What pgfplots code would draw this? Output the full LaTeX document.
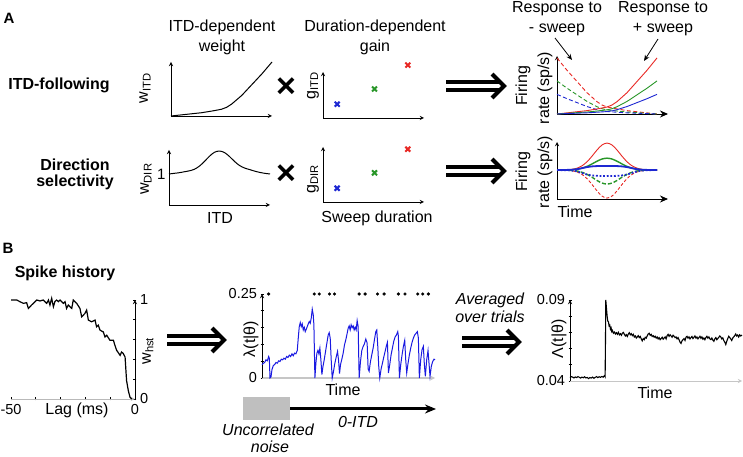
\documentclass[border=0pt]{standalone}
\usepackage{fontspec}
\setmainfont{Liberation Sans}
\usepackage{pgfplots}
\pgfplotsset{compat=1.18}
\usepackage{pgfplotstable}
\usetikzlibrary{arrows.meta}

\definecolor{cR}{RGB}{232,40,36}
\definecolor{cG}{RGB}{40,150,40}
\definecolor{cB}{RGB}{30,40,210}
\definecolor{cL}{RGB}{25,25,225}

\pgfplotstableread{
t w g b wr gr br
0.00 0.000 0.000 0.000 1.000 0.590 0.350
0.05 0.010 0.006 0.004 0.890 0.525 0.312
0.10 0.020 0.012 0.007 0.780 0.460 0.273
0.15 0.030 0.018 0.011 0.680 0.401 0.238
0.20 0.040 0.024 0.014 0.580 0.342 0.203
0.25 0.050 0.030 0.018 0.480 0.283 0.168
0.30 0.060 0.035 0.021 0.380 0.224 0.133
0.35 0.075 0.044 0.026 0.300 0.177 0.105
0.40 0.090 0.053 0.032 0.220 0.130 0.077
0.45 0.107 0.063 0.037 0.160 0.094 0.056
0.50 0.125 0.074 0.044 0.125 0.074 0.044
0.55 0.160 0.094 0.056 0.107 0.063 0.037
0.60 0.220 0.130 0.077 0.090 0.053 0.032
0.65 0.300 0.177 0.105 0.075 0.044 0.026
0.70 0.380 0.224 0.133 0.060 0.035 0.021
0.75 0.480 0.283 0.168 0.050 0.030 0.018
0.80 0.580 0.342 0.203 0.040 0.024 0.014
0.85 0.680 0.401 0.238 0.030 0.018 0.011
0.90 0.780 0.460 0.273 0.020 0.012 0.007
0.95 0.890 0.525 0.312 0.010 0.006 0.004
1.00 1.000 0.590 0.350 0.000 0.000 0.000
}\ramp

\pgfplotstableread{
t r g b bd gd rd wdir
0.00 0.001 0.000 0.000 0.000 0.000 -0.001 1.00
0.05 0.003 0.001 0.002 -0.003 -0.002 -0.003 1.02
0.10 0.009 0.004 0.005 -0.008 -0.005 -0.009 1.04
0.15 0.027 0.012 0.012 -0.020 -0.014 -0.028 1.07
0.20 0.070 0.031 0.032 -0.050 -0.036 -0.073 1.10
0.25 0.157 0.069 0.070 -0.110 -0.082 -0.163 1.15
0.30 0.306 0.135 0.110 -0.165 -0.159 -0.318 1.25
0.35 0.514 0.226 0.135 -0.200 -0.267 -0.535 1.40
0.40 0.744 0.327 0.147 -0.215 -0.387 -0.774 1.57
0.45 0.929 0.409 0.150 -0.220 -0.483 -0.966 1.70
0.50 1.000 0.440 0.150 -0.220 -0.520 -1.040 1.74
0.55 0.929 0.409 0.150 -0.220 -0.483 -0.966 1.69
0.60 0.744 0.327 0.147 -0.215 -0.387 -0.774 1.56
0.65 0.514 0.226 0.135 -0.200 -0.267 -0.535 1.40
0.70 0.306 0.135 0.110 -0.165 -0.159 -0.318 1.27
0.75 0.157 0.069 0.070 -0.110 -0.082 -0.163 1.19
0.80 0.070 0.031 0.032 -0.050 -0.036 -0.073 1.14
0.85 0.027 0.012 0.012 -0.020 -0.014 -0.028 1.09
0.90 0.009 0.004 0.005 -0.008 -0.005 -0.009 1.05
0.95 0.003 0.001 0.002 -0.003 -0.002 -0.003 1.02
1.00 0.001 0.000 0.000 0.000 0.000 -0.001 1.00
}\bump

\pgfplotstableread{
lag w
-50 1.0
-47.7 1.0
-46.4 0.983
-45.0 0.966
-43.7 0.973
-43.0 0.915
-41.7 0.949
-41.0 0.966
-40.3 0.983
-39.6 1.0
-38.3 0.99
-37.0 1.0
-35.6 0.966
-34.9 1.0
-34.3 0.949
-33.6 1.017
-32.9 0.932
-32.3 0.983
-31.6 1.0
-30.9 0.983
-30.2 1.0
-28.9 0.966
-28.2 0.983
-27.6 0.915
-26.9 0.949
-26.2 0.932
-25.5 0.915
-24.9 1.0
-23.5 0.966
-22.2 0.915
-21.5 0.83
-20.2 0.864
-19.5 0.898
-18.8 0.797
-17.5 0.78
-16.1 0.797
-15.5 0.729
-14.8 0.746
-14.1 0.695
-12.8 0.678
-12.1 0.627
-11.4 0.644
-10.1 0.593
-8.7 0.593
-8.1 0.542
-7.4 0.492
-6.0 0.441
-5.4 0.475
-4.7 0.458
-4.0 0.424
-3.4 0.186
-2.7 0.085
-2.0 0.017
-1.3 0.0
}\hist

\pgfplotstableread{
x y
80 0.040
84 0.044
88 0.046
92 0.054
96 0.051
100 0.064
102 0.059
104 0.000
107 0.003
110 0.025
114 0.037
118 0.040
122 0.046
126 0.044
130 0.051
134 0.049
138 0.056
142 0.054
146 0.059
150 0.056
154 0.064
158 0.061
162 0.068
166 0.064
170 0.072
174 0.066
178 0.074
182 0.072
186 0.082
189 0.119
192 0.153
195 0.165
198 0.153
201 0.161
204 0.143
207 0.151
210 0.138
213 0.145
216 0.153
219 0.161
222 0.168
225 0.163
228 0.178
231 0.205
234 0.188
236 0.158
239 0.000
242 0.044
245 0.074
248 0.082
251 0.072
254 0.089
257 0.054
260 0.010
263 0.033
267 0.054
271 0.079
275 0.104
279 0.128
282 0.135
285 0.119
288 0.054
291 0.000
295 0.020
299 0.044
303 0.062
307 0.079
310 0.054
313 0.013
316 0.040
320 0.056
324 0.074
328 0.099
332 0.114
336 0.133
339 0.148
342 0.155
345 0.143
348 0.158
351 0.150
354 0.155
357 0.143
360 0.151
363 0.143
366 0.171
369 0.153
372 0.000
376 0.049
380 0.082
384 0.094
388 0.102
392 0.116
396 0.104
399 0.027
402 0.020
406 0.049
410 0.069
414 0.089
418 0.114
422 0.138
425 0.143
428 0.094
431 0.033
434 0.000
438 0.027
442 0.044
446 0.062
450 0.079
454 0.096
457 0.106
460 0.015
464 0.040
468 0.069
472 0.089
476 0.109
480 0.122
484 0.128
488 0.138
490 0.124
493 0.000
497 0.040
501 0.069
505 0.094
509 0.112
512 0.054
515 0.015
519 0.044
523 0.069
527 0.089
531 0.106
535 0.119
539 0.128
543 0.133
547 0.138
550 0.119
553 0.000
557 0.054
561 0.084
565 0.094
568 0.040
571 0.005
575 0.054
579 0.082
582 0.044
585 0.005
589 0.035
593 0.049
597 0.056
600 0.054
}\lam

\pgfplotstableread{
x y
75 0.0421
79 0.0427
83 0.0424
87 0.0419
91 0.0425
95 0.0421
99 0.0427
103 0.0423
107 0.0418
111 0.0424
115 0.0420
119 0.0426
123 0.0419
127 0.0422
131 0.0415
135 0.0421
139 0.0418
143 0.0424
147 0.0417
151 0.0422
155 0.0427
159 0.0421
163 0.0426
167 0.0423
171 0.0428
175 0.0424
179 0.0433
181 0.0426
182 0.0640
183 0.0900
185 0.0850
187 0.0800
189 0.0770
191 0.0765
193 0.0740
195 0.0745
197 0.0720
199 0.0728
201 0.0705
203 0.0712
206 0.0695
209 0.0702
212 0.0690
215 0.0698
218 0.0688
221 0.0700
224 0.0685
227 0.0692
230 0.0682
233 0.0695
236 0.0700
239 0.0688
242 0.0678
245 0.0686
248 0.0675
251 0.0690
254 0.0698
257 0.0685
260 0.0692
263 0.0680
266 0.0688
269 0.0672
272 0.0678
275 0.0665
278 0.0672
281 0.0680
284 0.0668
287 0.0675
290 0.0660
293 0.0648
296 0.0662
299 0.0655
302 0.0670
305 0.0665
308 0.0678
311 0.0690
314 0.0695
317 0.0682
320 0.0688
323 0.0675
326 0.0680
329 0.0670
332 0.0676
335 0.0665
338 0.0672
341 0.0660
344 0.0668
347 0.0655
350 0.0662
353 0.0670
356 0.0658
359 0.0665
362 0.0672
365 0.0660
368 0.0680
371 0.0688
374 0.0676
377 0.0685
380 0.0678
383 0.0670
386 0.0682
389 0.0676
392 0.0668
395 0.0672
398 0.0660
401 0.0668
404 0.0655
407 0.0640
410 0.0632
413 0.0648
416 0.0655
419 0.0662
422 0.0650
425 0.0670
428 0.0676
431 0.0665
434 0.0672
437 0.0660
440 0.0668
443 0.0675
446 0.0662
449 0.0670
452 0.0678
455 0.0665
458 0.0672
461 0.0660
464 0.0668
467 0.0676
470 0.0664
473 0.0672
476 0.0658
479 0.0665
482 0.0655
485 0.0668
488 0.0676
491 0.0665
494 0.0672
497 0.0660
500 0.0656
503 0.0665
506 0.0652
509 0.0645
512 0.0660
515 0.0668
518 0.0655
521 0.0662
524 0.0670
527 0.0678
530 0.0672
533 0.0660
536 0.0666
539 0.0650
542 0.0640
545 0.0625
548 0.0645
551 0.0662
554 0.0676
557 0.0668
560 0.0660
563 0.0650
566 0.0665
569 0.0672
572 0.0680
575 0.0690
578 0.0678
581 0.0684
584 0.0672
587 0.0685
590 0.0678
594 0.0683
}\avg

\pgfplotsset{
  base/.style={scale only axis, anchor=south west, clip=false,
    scaled ticks=false,
    tick label style={font=\fontsize{14.5}{16}\selectfont},
    axis line style={-, line width=0.9pt},
    tick style={black, line width=0.6pt}, major tick length=3pt, tick align=inside},
  schem/.style={base, axis x line=bottom, axis y line=left, xtick=\empty, ytick=\empty,
    xmin=0, xmax=1, ymin=0, ymax=1},
  firing/.style={schem, xmax=1.11, x axis line style={-{Stealth[length=8pt,width=7pt]}}},
}

\tikzset{
  lab/.style={font=\fontsize{16}{19}\selectfont, inner sep=0pt},
  blab/.style={font=\fontsize{16}{19}\selectfont\bfseries, inner sep=0pt},
  ilab/.style={font=\fontsize{16}{19}\selectfont\itshape, inner sep=0pt},
}

\newcommand{\dbl}[3]{%
  \draw[line width=3.6pt] (#1pt,#3pt+4pt) -- (#2pt-8pt,#3pt+4pt);
  \draw[line width=3.6pt] (#1pt,#3pt-4pt) -- (#2pt-8pt,#3pt-4pt);
  \draw[line width=4pt, miter limit=10] (#2pt-15pt,#3pt+12pt) -- (#2pt-3pt,#3pt) -- (#2pt-15pt,#3pt-12pt);}

\begin{document}
\begin{tikzpicture}
\path[use as bounding box] (0pt,0pt) rectangle (743pt,457pt);

% ---------------- Panel A, row 1 ----------------
\begin{axis}[schem, at={(171pt,341pt)}, width=101pt, height=54pt]
\addplot[black, line width=1pt] table[x=t, y=w] {\ramp};
\end{axis}

\begin{axis}[schem, at={(323pt,339pt)}, width=101pt, height=46pt]
\addplot[only marks, mark=x, mark size=3.5pt, line width=2pt, cB] coordinates {(0.14,0.30)};
\addplot[only marks, mark=x, mark size=3.5pt, line width=2pt, cG] coordinates {(0.51,0.63)};
\addplot[only marks, mark=x, mark size=3.5pt, line width=2pt, cR] coordinates {(0.84,1.15)};
\end{axis}

\begin{axis}[firing, at={(557pt,343pt)}, width=111pt, height=58pt, ymax=1.035]
\addplot[cR, line width=0.9pt, dash pattern=on 4pt off 2.5pt] table[x=t, y=wr] {\ramp};
\addplot[cG, line width=0.9pt, dash pattern=on 4pt off 2.5pt] table[x=t, y=gr] {\ramp};
\addplot[cB, line width=0.9pt, dash pattern=on 4pt off 2.5pt] table[x=t, y=br] {\ramp};
\addplot[cR, line width=0.9pt] table[x=t, y=w] {\ramp};
\addplot[cG, line width=0.9pt] table[x=t, y=g] {\ramp};
\addplot[cB, line width=0.9pt] table[x=t, y=b] {\ramp};
\end{axis}

% ---------------- Panel A, row 2 ----------------
\begin{axis}[schem, at={(169pt,252pt)}, width=101pt, height=55pt, ymax=1.773,
  ytick={1}, yticklabels={1}, major tick length=0pt,
  yticklabel style={font=\fontsize{15}{16}\selectfont}]
\addplot[black, line width=1pt, smooth] table[x=t, y=wdir] {\bump};
\end{axis}

\begin{axis}[schem, at={(323pt,255pt)}, width=101pt, height=55pt]
\addplot[only marks, mark=x, mark size=3.5pt, line width=2pt, cB] coordinates {(0.14,0.25)};
\addplot[only marks, mark=x, mark size=3.5pt, line width=2pt, cG] coordinates {(0.51,0.53)};
\addplot[only marks, mark=x, mark size=3.5pt, line width=2pt, cR] coordinates {(0.84,0.96)};
\end{axis}

\begin{axis}[firing, at={(557pt,258pt)}, width=111pt, height=57pt, ymin=-1.074, ymax=1.04]
\addplot[cR, line width=0.9pt, dash pattern=on 3pt off 2pt, smooth] table[x=t, y=rd] {\bump};
\addplot[cG, line width=1.4pt, dash pattern=on 4pt off 2pt, smooth] table[x=t, y=gd] {\bump};
\addplot[cB, line width=1.8pt, dash pattern=on 1.8pt off 1.8pt, smooth] table[x=t, y=bd] {\bump};
\addplot[cR, line width=0.9pt, smooth] table[x=t, y=r] {\bump};
\addplot[cG, line width=1.4pt, smooth] table[x=t, y=g] {\bump};
\addplot[cB, line width=1.8pt, smooth] table[x=t, y=b] {\bump};
\end{axis}

% ---------------- Panel B axes ----------------
\begin{axis}[base, at={(11pt,58pt)}, width=124pt, height=99pt,
  xmin=-50, xmax=0, ymin=0, ymax=1,
  axis x line=bottom, axis y line=right,
  x axis line style={gray!55},
  xtick={-50,-40,-30,-20,-10,0}, xticklabels={-50,{},{},{},{},0},
  ytick={0,0.2,0.4,0.6,0.8,1}, yticklabels={0,{},{},{},{},1}]
\addplot[black, line width=1.2pt] table[x=lag, y=w] {\hist};
\end{axis}

\begin{axis}[base, at={(262pt,79pt)}, width=173pt, height=84pt,
  xmin=80, xmax=600, ymin=0, ymax=0.25,
  axis x line=bottom, axis y line=left,
  x axis line style={gray!45, line width=1.2pt},
  xtick=\empty,
  ytick={0,0.05,0.1,0.15,0.2,0.25}, yticklabels={0,{},{},{},{},0.25}]
\addplot[cL, line width=1pt] table[x=x, y=y] {\lam};
\addplot[only marks, mark=*, mark size=1.4pt, black] coordinates {
(100,0.25) (237,0.25) (252,0.25) (283,0.25) (298,0.25) (372,0.25) (390,0.25)
(427,0.25) (447,0.25) (490,0.25) (510,0.25) (548,0.25) (563,0.25) (580,0.25)};
\end{axis}

\begin{axis}[base, at={(570pt,76pt)}, width=172pt, height=81pt,
  xmin=75, xmax=594, ymin=0.04, ymax=0.09,
  axis x line=bottom, axis y line=left,
  x axis line style={gray!45},
  xtick=\empty,
  ytick={0.04,0.05,0.06,0.07,0.08,0.09}, yticklabels={0.04,{},{},{},{},0.09}]
\addplot[black, line width=1.1pt] table[x=x, y=y] {\avg};
\end{axis}

% ---------------- Panel A text ----------------
\node[font=\fontsize{15}{18}\selectfont\bfseries, inner sep=0pt] at (9pt,439pt) {A};
\node[lab] at (222pt,430pt) {ITD-dependent};
\node[lab] at (222pt,410pt) {weight};
\node[lab] at (375pt,430pt) {Duration-dependent};
\node[lab] at (375pt,410pt) {gain};
\node[blab] at (59pt,372pt) {ITD-following};
\node[blab] at (75pt,292pt) {Direction};
\node[blab] at (75pt,275pt) {selectivity};
\node[lab, rotate=90] at (145pt,369pt) {w\textsubscript{ITD}};
\node[lab, rotate=90] at (313pt,371pt) {g\textsubscript{ITD}};
\node[lab, rotate=90] at (146pt,278pt) {w\textsubscript{DIR}};
\node[lab, rotate=90] at (313pt,278pt) {g\textsubscript{DIR}};
\node[lab] at (220pt,239pt) {ITD};
\node[lab] at (377pt,239pt) {Sweep duration};
\node[font=\fontsize{34}{34}\selectfont\bfseries, inner sep=0pt] at (286pt,369pt) {×};
\node[font=\fontsize{34}{34}\selectfont\bfseries, inner sep=0pt] at (286pt,282pt) {×};
\dbl{446}{507}{371}
\dbl{446}{507}{286}
\node[lab] at (557pt,448pt) {Response to};
\node[lab] at (557pt,427pt) {- sweep};
\node[lab] at (663pt,448pt) {Response to};
\node[lab] at (663pt,427pt) {+ sweep};
\draw[line width=0.8pt, -{Stealth[length=6pt,width=5pt]}] (555pt,419pt) -- (572pt,397pt);
\draw[line width=0.8pt, -{Stealth[length=6pt,width=5pt]}] (658pt,418pt) -- (644pt,396pt);
\node[lab, rotate=90] at (523pt,371pt) {Firing};
\node[lab, rotate=90] at (545pt,369pt) {rate (sp/s)};
\node[lab, rotate=90] at (523pt,285pt) {Firing};
\node[lab, rotate=90] at (545pt,285pt) {rate (sp/s)};
\node[lab] at (575pt,245pt) {Time};

% ---------------- Panel B text ----------------
\node[font=\fontsize{15}{18}\selectfont\bfseries, inner sep=0pt] at (8pt,209pt) {B};
\node[blab] at (65pt,184pt) {Spike history};
\node[lab] at (77pt,47pt) {Lag (ms)};
\node[lab, rotate=90] at (148pt,106pt) {w\textsubscript{hst}};
\dbl{167}{227}{117}
\node[lab, rotate=90] at (251pt,118pt) {λ(t|θ)};
\node[lab] at (343pt,67pt) {Time};
\fill[gray!50] (243pt,37pt) rectangle (290pt,60pt);
\draw[line width=3pt, -{Stealth[length=11pt,width=9pt]}] (290pt,48pt) -- (436pt,48pt);
\node[ilab] at (358pt,35pt) {0-ITD};
\node[ilab] at (268pt,27pt) {Uncorrelated};
\node[ilab] at (270pt,10pt) {noise};
\node[ilab] at (490pt,157pt) {Averaged};
\node[ilab] at (490pt,140pt) {over trials};
\dbl{462}{522}{115}
\node[lab, rotate=90] at (559pt,118pt) {Λ(t|θ)};
\node[lab] at (655pt,64pt) {Time};
\end{tikzpicture}
\end{document}
